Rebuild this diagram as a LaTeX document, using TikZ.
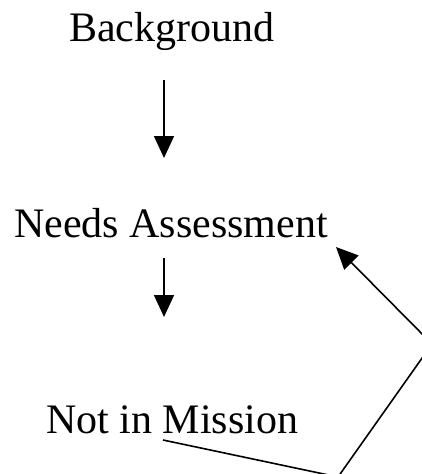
\documentclass[tikz,border=0pt]{standalone}
\usepackage{fontspec}
\setmainfont{Liberation Serif}
\usetikzlibrary{arrows.meta}
\begin{document}
\begin{tikzpicture}[x=1pt,y=-1pt,
  lbl/.style={anchor=base west,inner sep=0pt,font=\fontsize{42}{50}\selectfont},
  conn/.style={line width=1.6pt},
  arr/.style={conn,-{Triangle[width=20pt,length=22pt]}}]
\useasboundingbox (0,0) rectangle (422,474);
\clip (0,0) rectangle (422,474);
\node[lbl] (bg) at (69,41) {Background};
\node[lbl] (na) at (14,237) {Needs Assessment};
\node[lbl] (nm) at (46,433) {Not in Mission};
\coordinate (a1s) at (164,80);
\coordinate (a1e) at (164,158);
\coordinate (a2s) at (164,258);
\coordinate (a2e) at (164,317);
\coordinate (ms) at (163,440);
\coordinate (v1) at (338,477);
\coordinate (v2) at (432,344);
\coordinate (nt) at (336,247);
\draw[arr] (a1s) -- (a1e);
\draw[arr] (a2s) -- (a2e);
\draw[arr] (ms) -- (v1) -- (v2) -- (nt);
\end{tikzpicture}
\end{document}
